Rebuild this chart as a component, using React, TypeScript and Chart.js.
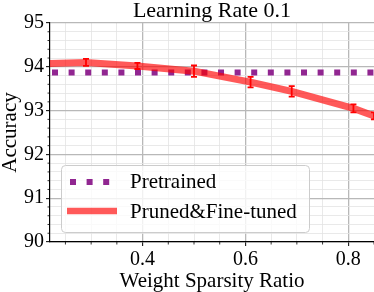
import React, { useEffect, useRef } from 'react';
import { Chart, registerables } from 'chart.js';

Chart.register(...registerables);

// ---------- data ----------
const TITLE = 'Learning Rate 0.1';
const X_LABEL = 'Weight Sparsity Ratio';
const Y_LABEL = 'Accuracy';

const SPARSITY = [0.2, 0.29, 0.39, 0.5, 0.61, 0.69, 0.81, 0.85];
const PRUNED_ACC = [94.07, 94.1, 94.02, 93.9, 93.65, 93.44, 93.05, 92.88];
const PRUNED_ERR = [0.06, 0.08, 0.07, 0.13, 0.12, 0.12, 0.09, 0.08];

const PRETRAINED_X = [0.2, 0.9];
const PRETRAINED_ACC = [93.87, 93.87];

const SERIES_LABELS = ['Pretrained', 'Pruned&Fine-tuned'];

const X_MIN = 0.22;
const X_MAX = 0.85;
const Y_MIN = 90;
const Y_MAX = 95;

const X_MAJOR_TICKS = [0.4, 0.6, 0.8];
const X_MINOR_TICKS = [0.25, 0.3, 0.35, 0.45, 0.5, 0.55, 0.65, 0.7, 0.75, 0.85];
const Y_MAJOR_TICKS = [90, 91, 92, 93, 94, 95];
const Y_MINOR_TICKS = [
  90.2, 90.4, 90.6, 90.8, 91.2, 91.4, 91.6, 91.8, 92.2, 92.4, 92.6, 92.8,
  93.2, 93.4, 93.6, 93.8, 94.2, 94.4, 94.6, 94.8,
];

// ---------- style ----------
const FONT = "'Liberation Serif', 'Times New Roman', Times, serif";
const PURPLE = 'rgb(145, 38, 145)';
const RED_LINE = 'rgba(255, 0, 0, 0.65)';
const ERR_COLOR = '#ff0000';
const MAJOR_GRID = '#b8b8b8';
const MINOR_GRID = '#e3e3e3';

const near = (a: number, b: number) => Math.abs(a - b) < 1e-6;
const isIn = (list: number[], v: number) => list.some((t) => near(t, v));

const overlay = {
  id: 'overlay',
  afterDatasetsDraw(chart: any) {
    const { ctx, chartArea: a } = chart;
    const xs = chart.scales.x;
    const ys = chart.scales.y;
    ctx.save();
    ctx.beginPath();
    ctx.rect(a.left, a.top, a.right - a.left, a.bottom - a.top);
    ctx.clip();
    ctx.strokeStyle = ERR_COLOR;
    ctx.lineWidth = 1.8;
    SPARSITY.forEach((s, i) => {
      const px = xs.getPixelForValue(s);
      const t = ys.getPixelForValue(PRUNED_ACC[i] + PRUNED_ERR[i]);
      const b = ys.getPixelForValue(PRUNED_ACC[i] - PRUNED_ERR[i]);
      ctx.beginPath();
      ctx.moveTo(px, t);
      ctx.lineTo(px, b);
      ctx.moveTo(px - 3, t);
      ctx.lineTo(px + 3, t);
      ctx.moveTo(px - 3, b);
      ctx.lineTo(px + 3, b);
      ctx.stroke();
    });
    ctx.restore();
  },
  afterDraw(chart: any) {
    const { ctx, chartArea: a } = chart;
    const xs = chart.scales.x;
    const ys = chart.scales.y;
    ctx.save();
    // minor ticks
    ctx.strokeStyle = '#000';
    ctx.lineWidth = 0.8;
    ctx.beginPath();
    X_MINOR_TICKS.forEach((v) => {
      const px = xs.getPixelForValue(v);
      ctx.moveTo(px, a.bottom);
      ctx.lineTo(px, a.bottom + 2.5);
    });
    Y_MINOR_TICKS.forEach((v) => {
      const py = ys.getPixelForValue(v);
      ctx.moveTo(a.left, py);
      ctx.lineTo(a.left - 2.5, py);
    });
    ctx.stroke();

    // legend
    const lx = 61, ly = 165, lw = 248, lh = 67;
    ctx.beginPath();
    ctx.roundRect(lx + 0.5, ly + 0.5, lw, lh, 4);
    ctx.fillStyle = 'rgba(255,255,255,0.8)';
    ctx.fill();
    ctx.strokeStyle = '#cccccc';
    ctx.lineWidth = 1;
    ctx.stroke();

    const ds = chart.data.datasets;
    ctx.beginPath();
    ctx.setLineDash([6, 10.6]);
    ctx.lineCap = 'butt';
    ctx.strokeStyle = ds[0].borderColor;
    ctx.lineWidth = 6;
    ctx.moveTo(70, 182);
    ctx.lineTo(110, 182);
    ctx.stroke();
    ctx.beginPath();
    ctx.setLineDash([]);
    ctx.strokeStyle = ds[1].borderColor;
    ctx.lineWidth = 6.5;
    ctx.moveTo(67, 211);
    ctx.lineTo(117, 211);
    ctx.stroke();

    ctx.fillStyle = '#000';
    ctx.font = `21px ${FONT}`;
    ctx.textBaseline = 'middle';
    ctx.textAlign = 'left';
    ctx.fillText(ds[0].label, 130, 182);
    ctx.fillText(ds[1].label, 130, 212);
    ctx.restore();
  },
};

export default function App() {
  const ref = useRef<HTMLCanvasElement | null>(null);

  useEffect(() => {
    if (!ref.current) return;
    const chart = new Chart(ref.current, {
      type: 'line',
      data: {
        datasets: [
          {
            label: SERIES_LABELS[0],
            data: PRETRAINED_X.map((x, i) => ({ x, y: PRETRAINED_ACC[i] })),
            borderColor: PURPLE,
            borderWidth: 6,
            borderDash: [6, 10.6],
            borderDashOffset: 4.3,
            borderCapStyle: 'butt',
            pointRadius: 0,
            tension: 0,
            clip: 0,
            order: 2,
          },
          {
            label: SERIES_LABELS[1],
            data: SPARSITY.map((x, i) => ({ x, y: PRUNED_ACC[i] })),
            borderColor: RED_LINE,
            borderWidth: 7,
            borderJoinStyle: 'round',
            pointRadius: 0,
            tension: 0,
            clip: 0,
            order: 1,
          },
        ],
      },
      options: {
        animation: false,
        responsive: true,
        maintainAspectRatio: false,
        layout: { padding: 0 },
        plugins: {
          legend: { display: false },
          tooltip: { enabled: false },
          title: {
            display: true,
            text: TITLE,
            fullSize: false,
            color: '#000',
            font: { family: FONT, size: 22, lineHeight: 1, weight: 'normal' },
            padding: { top: 0, bottom: 1 },
          },
        },
        scales: {
          x: {
            type: 'linear',
            min: X_MIN,
            max: X_MAX,
            afterBuildTicks: (s: any) => {
              s.ticks = [...X_MAJOR_TICKS, ...X_MINOR_TICKS]
                .sort((p, q) => p - q)
                .map((v) => ({ value: v }));
            },
            afterFit: (s: any) => {
              s.height = 50;
              s.paddingLeft = 0;
              s.paddingRight = 0;
            },
            ticks: {
              autoSkip: false,
              maxRotation: 0,
              padding: 2,
              color: '#000',
              font: { family: FONT, size: 20 },
              callback: (v: any) => (isIn(X_MAJOR_TICKS, v) ? Number(v).toFixed(1) : ''),
            },
            grid: {
              color: (c: any) => (c.tick && isIn(X_MAJOR_TICKS, c.tick.value) ? MAJOR_GRID : MINOR_GRID),
              lineWidth: (c: any) => (c.tick && isIn(X_MAJOR_TICKS, c.tick.value) ? 1.3 : 0.8),
              tickColor: (c: any) => (c.tick && isIn(X_MAJOR_TICKS, c.tick.value) ? '#000' : 'rgba(0,0,0,0)'),
              tickLength: 4,
              tickWidth: 1,
            },
            border: { display: true, color: '#000', width: 1.2 },
            title: {
              display: true,
              text: X_LABEL,
              color: '#000',
              font: { family: FONT, size: 21, lineHeight: 1 },
              padding: 0,
            },
          },
          y: {
            type: 'linear',
            min: Y_MIN,
            max: Y_MAX,
            afterBuildTicks: (s: any) => {
              s.ticks = [...Y_MAJOR_TICKS, ...Y_MINOR_TICKS]
                .sort((p, q) => p - q)
                .map((v) => ({ value: v }));
            },
            afterFit: (s: any) => {
              s.width = 50;
              s.paddingTop = 0;
              s.paddingBottom = 0;
            },
            ticks: {
              autoSkip: false,
              padding: 2,
              color: '#000',
              font: { family: FONT, size: 20 },
              callback: (v: any) => (isIn(Y_MAJOR_TICKS, v) ? String(Math.round(v)) : ''),
            },
            grid: {
              color: (c: any) => (c.tick && isIn(Y_MAJOR_TICKS, c.tick.value) ? MAJOR_GRID : MINOR_GRID),
              lineWidth: (c: any) => (c.tick && isIn(Y_MAJOR_TICKS, c.tick.value) ? 1.3 : 0.8),
              tickColor: (c: any) => (c.tick && isIn(Y_MAJOR_TICKS, c.tick.value) ? '#000' : 'rgba(0,0,0,0)'),
              tickLength: 4,
              tickWidth: 1,
            },
            border: { display: true, color: '#000', width: 1.2 },
            title: {
              display: true,
              text: Y_LABEL,
              color: '#000',
              font: { family: FONT, size: 21, lineHeight: 1 },
              padding: 0,
            },
          },
        },
      } as any,
      plugins: [overlay],
    });
    return () => chart.destroy();
  }, []);

  return (
    <div style={{ position: 'fixed', left: 0, top: 0, width: 374, height: 292, background: '#fff' }}>
      <canvas ref={ref} />
    </div>
  );
}
